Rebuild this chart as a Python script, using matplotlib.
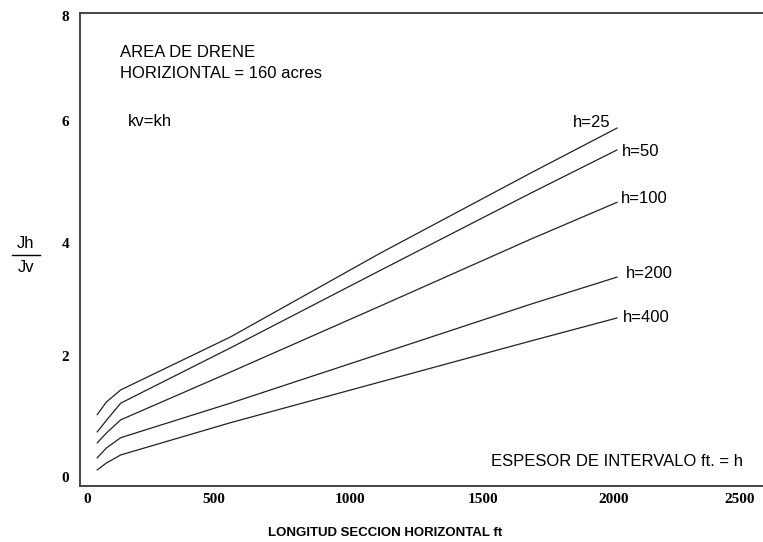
#!/usr/bin/env python3

import numpy as np
import matplotlib.pyplot as plt
from matplotlib.lines import Line2D

# longitud de seccion horizontal (ft)
longitud = [35, 70, 125, 545, 1120, 1695, 2025]

# Jh/Jv por espesor h
h25 = [1.08, 1.30, 1.51, 2.43, 3.89, 5.28, 6.06]
h50 = [0.78, 0.98, 1.28, 2.24, 3.59, 4.93, 5.68]
h100 = [0.59, 0.76, 0.99, 1.82, 2.97, 4.13, 4.77]
h200 = [0.33, 0.50, 0.68, 1.28, 2.14, 3.00, 3.47]
h400 = [0.12, 0.24, 0.38, 0.94, 1.65, 2.36, 2.76]

curvas = [h25, h50, h100, h200, h400]
etiquetas = ["h=25", "h=50", "h=100", "h=200", "h=400"]
pos_etiquetas = [(1856, 6.16), (2044, 5.66), (2040, 4.84), (2059, 3.54), (2048, 2.76)]

xticks = [0, 500, 1000, 1500, 2000, 2500]
yticks = [0, 2, 4, 6, 8]

sans = ["Liberation Sans", "DejaVu Sans"]
serif = ["Liberation Serif", "DejaVu Serif"]

fig = plt.figure(figsize=(7.63, 5.42), dpi=100)
ax = fig.add_axes([80 / 763, 56 / 542, 683 / 763, 473 / 542])

for y, lab, pos in zip(curvas, etiquetas, pos_etiquetas):
    ax.plot(longitud, y, color="#222222", linewidth=0.9)
    ax.text(pos[0], pos[1], lab, fontsize=12, family=sans, va="center", ha="left")

ax.set_xlim(-31, 2584)
ax.set_ylim(-0.16, 8.06)

# la escala escaneada no es uniforme: etiquetas donde aparecen en la figura
ax.set_xticks([-4, 483, 1004, 1514, 2013, 2495])
ax.set_yticks([0.0, 2.10, 4.06, 6.18, 8.0])
ax.set_xticklabels([str(v) for v in xticks], family=serif, fontweight="bold", fontsize=11)
ax.set_yticklabels([str(v) for v in yticks], family=serif, fontweight="bold", fontsize=11)
ax.tick_params(length=0)
ax.tick_params(axis="x", pad=5)
ax.tick_params(axis="y", pad=8)

ax.spines["right"].set_visible(False)
for s in ["left", "top", "bottom"]:
    ax.spines[s].set_linewidth(1.4)
    ax.spines[s].set_color("#444444")

ax.text(123, 7.38, "AREA DE DRENE", fontsize=12, family=sans, va="center")
ax.text(123, 7.00, "HORIZIONTAL = 160 acres", fontsize=12, family=sans, va="center")
ax.text(153, 6.18, "kv=kh", fontsize=12, family=sans, va="center")
ax.text(1541, 0.26, "ESPESOR DE INTERVALO ft. = h", fontsize=12, family=sans, va="center")

# etiqueta del eje y en forma de fraccion
fig.text(26 / 763, 1 - 243 / 542, "Jh", fontsize=12, family=sans, ha="center", va="center")
fig.text(26 / 763, 1 - 268 / 542, "Jv", fontsize=12, family=sans, ha="center", va="center")
fig.add_artist(Line2D([12 / 763, 40 / 763], [1 - 255 / 542, 1 - 255 / 542],
                      color="black", linewidth=1.0))

fig.text(385 / 763, 1 - 533 / 542, "LONGITUD SECCION HORIZONTAL ft", fontsize=9.5,
         family=sans, fontweight="bold", ha="center", va="center")

fig.savefig("out.png", dpi=100)
